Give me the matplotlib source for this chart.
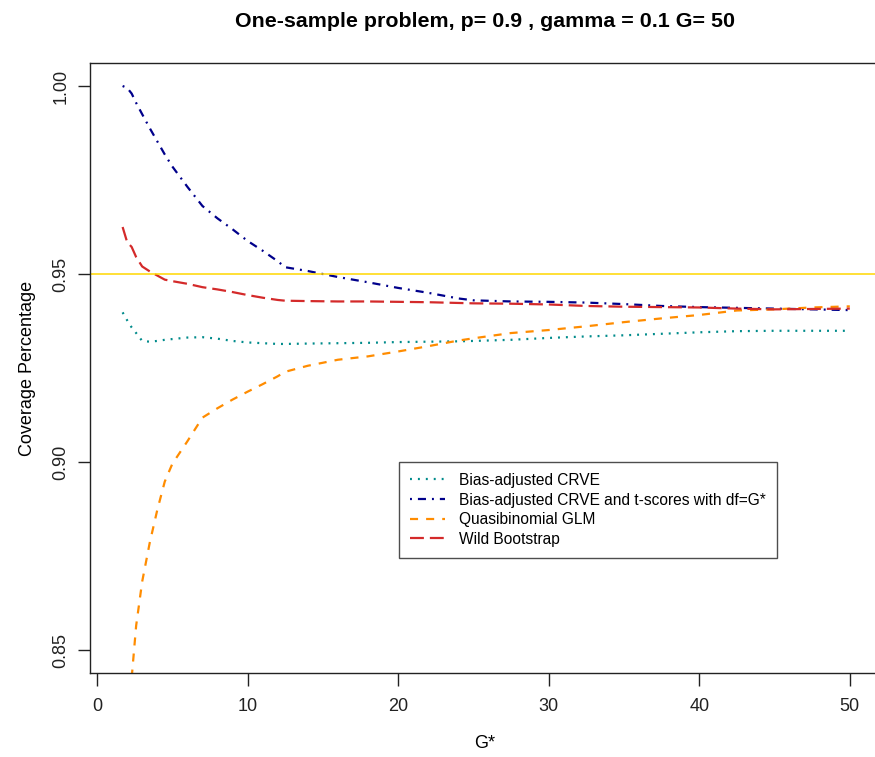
import matplotlib
matplotlib.use("Agg")
import matplotlib.pyplot as plt

plt.rcParams['font.family'] = ['Liberation Sans', 'DejaVu Sans']
plt.rcParams['lines.scale_dashes'] = False

# G* grid shared by all four methods
g_star = [1.7, 2.0, 2.3, 2.6, 3.0, 3.5, 4.0, 4.5, 5.0, 6.0, 7.0, 8.0, 9.0,
          10, 11, 12, 12.5, 14, 16, 18, 20, 22, 24, 25, 27.5, 30, 32.5,
          35, 37.5, 40, 42.5, 45, 47.5, 50]

crve = [0.9398, 0.9377, 0.9358, 0.9343, 0.9322, 0.9320, 0.9322, 0.9325,
        0.9327, 0.9331, 0.9332, 0.9328, 0.9322, 0.9318, 0.9316, 0.9314,
        0.9314, 0.9315, 0.9316, 0.9317, 0.9319, 0.9320, 0.9321, 0.9322,
        0.9325, 0.9330, 0.9334, 0.9337, 0.9341, 0.9345, 0.9348, 0.9349,
        0.9349, 0.9349]

crve_t = [1.0000, 0.9995, 0.9980, 0.9955, 0.9925, 0.9888, 0.9853, 0.9818,
          0.9786, 0.9732, 0.9681, 0.9648, 0.9619, 0.9588, 0.9562, 0.9534,
          0.9518, 0.9508, 0.9492, 0.9478, 0.9463, 0.9450, 0.9435, 0.9430,
          0.9427, 0.9426, 0.9424, 0.9420, 0.9415, 0.9412, 0.9410, 0.9408,
          0.9406, 0.9404]

quasi = [0.8000, 0.8220, 0.8425, 0.8565, 0.8682, 0.8785, 0.8872, 0.8948,
         0.8995, 0.9055, 0.9118, 0.9143, 0.9166, 0.9187, 0.9207, 0.9228,
         0.9240, 0.9256, 0.9272, 0.9281, 0.9294, 0.9308, 0.9323, 0.9329,
         0.9343, 0.9351, 0.9361, 0.9372, 0.9382, 0.9391, 0.9403, 0.9406,
         0.9411, 0.9414]

wild = [0.9625, 0.9585, 0.9572, 0.9545, 0.9520, 0.9507, 0.9496, 0.9485,
        0.9481, 0.9474, 0.9465, 0.9459, 0.9452, 0.9444, 0.9437, 0.9431,
        0.9429, 0.9428, 0.9427, 0.9427, 0.9426, 0.9425, 0.9423, 0.9422,
        0.9421, 0.9419, 0.9415, 0.9413, 0.9412, 0.9411, 0.9408, 0.9406,
        0.9407, 0.9408]

labels = ["Bias-adjusted CRVE",
          "Bias-adjusted CRVE and t-scores with df=G*",
          "Quasibinomial GLM",
          "Wild Bootstrap"]
target = 0.95

fig = plt.figure(figsize=(8.75, 7.57), dpi=100)
ax = fig.add_axes([0.1033, 0.1115, 0.9013, 0.8047])

lw = 1.6
ax.plot(g_star, crve, color="#008B8B", lw=lw, dashes=(1.4, 4.3), label=labels[0])
ax.plot(g_star, crve_t, color="#00008B", lw=lw, dashes=(1.4, 4.3, 5.8, 4.3),
        label=labels[1])
ax.plot(g_star, quasi, color="#FF8C00", lw=lw, dashes=(5.8, 5.8), label=labels[2])
ax.plot(g_star, wild, color="#D42A2A", lw=lw, dashes=(10, 4.3), label=labels[3])
ax.axhline(target, color="#FFD700", lw=1.1)

ax.set_xlim(-0.44, 51.94)
ax.set_ylim(0.844, 1.006)
ax.set_xticks([0, 10, 20, 30, 40, 50])
ax.set_yticks([0.85, 0.90, 0.95, 1.00])
ax.set_yticklabels(["0.85", "0.90", "0.95", "1.00"], rotation=90, va="center")
ax.tick_params(labelsize=13, length=9, width=1, colors="#222222")
ax.tick_params(axis="x", pad=9)
ax.tick_params(axis="y", pad=6)
for s in ax.spines.values():
    s.set_linewidth(1)
    s.set_color("#222222")

ax.set_xlabel("G*", fontsize=13, labelpad=15)
ax.set_ylabel("Coverage Percentage", fontsize=13, labelpad=12)
ax.set_title("One-sample problem, p= 0.9 , gamma = 0.1 G= 50",
             fontsize=15.4, fontweight="bold", pad=26)

leg = ax.legend(loc="upper left", bbox_to_anchor=(399 / 875, 1 - 462 / 757),
                bbox_transform=fig.transFigure, fontsize=11.2, frameon=True,
                fancybox=False, edgecolor="#222222", handlelength=2.25,
                handletextpad=0.9, borderpad=0.7, labelspacing=0.3,
                borderaxespad=0)
leg.get_frame().set_linewidth(1)

fig.savefig("out.png", dpi=100)
